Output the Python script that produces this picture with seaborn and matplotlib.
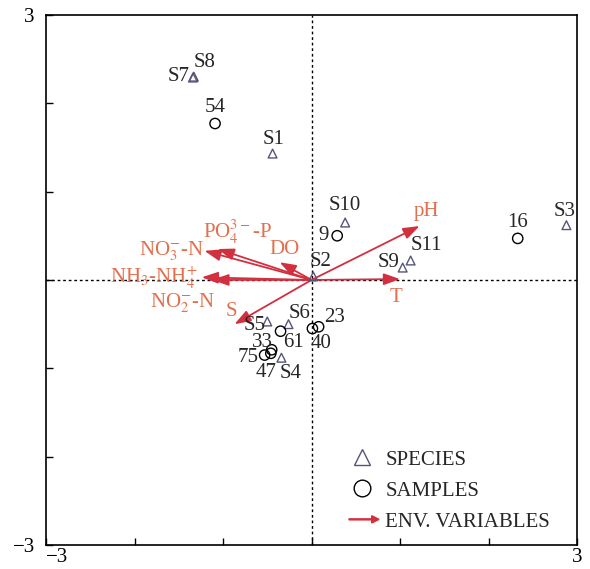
import matplotlib
matplotlib.use("Agg")
import matplotlib.pyplot as plt
import matplotlib.patches as mpatches
from matplotlib.lines import Line2D
from matplotlib.legend_handler import HandlerPatch
import seaborn as sns
import pandas as pd

# species scores
species_names = ["S1", "S2", "S3", "S4", "S5", "S6", "S7", "S8", "S9", "S10", "S11"]
species_x = [-0.44, 0.02, 2.88, -0.34, -0.50, -0.26, -1.34, -1.33, 1.03, 0.38, 1.12]
species_y = [1.43, 0.04, 0.62, -0.88, -0.47, -0.50, 2.29, 2.30, 0.14, 0.65, 0.22]

# sample scores
sample_names = ["54", "9", "16", "61", "33", "75", "47", "40", "23"]
sample_x = [-1.09, 0.29, 2.33, -0.35, -0.45, -0.53, -0.46, 0.01, 0.08]
sample_y = [1.77, 0.50, 0.47, -0.58, -0.79, -0.85, -0.83, -0.55, -0.53]

# environmental variables (arrow tips)
env_names = ["pH", "T", r"NO$_3^{-}$-N", r"PO$_4^{3-}$-P", "DO",
             r"NH$_3$-NH$_4^{+}$", r"NO$_2^{-}$-N", "S"]
env_x = [1.22, 1.00, -1.21, -1.06, -0.36, -1.24, -1.12, -0.87]
env_y = [0.61, 0.01, 0.33, 0.35, 0.20, 0.03, 0.00, -0.50]

species_df = pd.DataFrame({"name": species_names, "x": species_x, "y": species_y})
sample_df = pd.DataFrame({"name": sample_names, "x": sample_x, "y": sample_y})

sns.set_style("ticks")
plt.rcParams["font.family"] = ["Liberation Serif", "DejaVu Serif"]
plt.rcParams["mathtext.fontset"] = "stix"

tri_color = "#55557a"
env_color = "#d22f3f"
lab_color = "#e2704f"

fig = plt.figure(figsize=(5.9, 5.69), dpi=100)
ax = fig.add_axes([0.078, 0.042, 0.900, 0.932])

ax.axhline(0, color="black", ls=(0, (2, 2)), lw=1.0, zorder=1)
ax.axvline(0, color="black", ls=(0, (2, 2)), lw=1.0, zorder=1)

# env arrows
for ex, ey in zip(env_x, env_y):
    ax.annotate("", xy=(ex, ey), xytext=(0, 0),
                arrowprops=dict(arrowstyle="-|>,head_length=0.7,head_width=0.25",
                                color=env_color, lw=1.3, shrinkA=0, shrinkB=0,
                                mutation_scale=14), zorder=3)

sns.scatterplot(data=species_df, x="x", y="y", ax=ax, marker="^", s=40,
                facecolor="none", edgecolor=tri_color, linewidth=1.0, zorder=4)
sns.scatterplot(data=sample_df, x="x", y="y", ax=ax, marker="o", s=55,
                facecolor="none", edgecolor="black", linewidth=1.0, zorder=4)

fs = 15
# label offsets in points
sp_off = {"S1": (1, 10), "S2": (5, 11), "S3": (-1, 9.5), "S4": (6.5, -11),
          "S5": (-9, -3), "S6": (8, 8), "S7": (-10, 0.5), "S8": (8, 10),
          "S9": (-10, 4), "S10": (0, 12), "S11": (11.5, 10.5)}
for n, x, y in zip(species_names, species_x, species_y):
    dx, dy = sp_off[n]
    ax.annotate(n, (x, y), xytext=(dx, dy), textcoords="offset points",
                ha="center", va="center", fontsize=fs, zorder=5)

sa_off = {"54": (0, 11.5), "9": (-10, 0.5), "16": (0, 11.5), "61": (9.4, -8),
          "33": (-6.5, 5.5), "75": (-12, -2), "47": (-3.6, -13.5), "40": (6.5, -10.8),
          "23": (11.5, 7)}
for n, x, y in zip(sample_names, sample_x, sample_y):
    dx, dy = sa_off[n]
    ax.annotate(n, (x, y), xytext=(dx, dy), textcoords="offset points",
                ha="center", va="center", fontsize=fs, zorder=5)

env_lab = [(1.30, 0.78), (0.96, -0.20), (-1.58, 0.32), (-0.84, 0.54), (-0.31, 0.34),
           (-1.78, 0.02), (-1.46, -0.26), (-0.90, -0.36)]
for n, (lx, ly) in zip(env_names, env_lab):
    ax.text(lx, ly, n, color=lab_color, fontsize=fs, ha="center", va="center", zorder=5)

ax.set_xlim(-3, 3)
ax.set_ylim(-3, 3)
ax.set_xticks(range(-3, 4))
ax.set_yticks(range(-3, 4))
ax.set_xticklabels(["\u22123", "", "", "", "", "", "3"])
ax.set_yticklabels(["\u22123", "", "", "", "", "", "3"])
ax.get_xticklabels()[0].set_ha("left")
ax.tick_params(direction="in", length=5, width=1.0, labelsize=15, colors="black")
ax.tick_params(axis="x", pad=2)
ax.tick_params(axis="y", pad=8)
ax.set_xlabel("")
ax.set_ylabel("")
for sp in ax.spines.values():
    sp.set_visible(True)
    sp.set_linewidth(1.2)
    sp.set_color("black")


def make_arrow(legend, orig_handle, xdescent, ydescent, width, height, fontsize):
    x0 = 0.1 * width
    return mpatches.FancyArrow(x0, 0.5 * height, width - x0, 0, length_includes_head=True,
                               head_width=0.5 * height, head_length=0.5 * height,
                               color=env_color, width=0.07 * height)


handles = [
    Line2D([], [], marker="^", ls="none", markersize=12, markerfacecolor="none",
           markeredgecolor=tri_color, markeredgewidth=1.0),
    Line2D([], [], marker="o", ls="none", markersize=12, markerfacecolor="none",
           markeredgecolor="black", markeredgewidth=1.0),
    mpatches.FancyArrow(0, 0, 1, 0, color=env_color),
]
ax.legend(handles, ["SPECIES", "SAMPLES", "ENV. VARIABLES"], loc="lower left",
          bbox_to_anchor=(0.529, -0.01), frameon=False, fontsize=15,
          handlelength=1.6, handletextpad=0.3, labelspacing=0.55,
          handler_map={mpatches.FancyArrow: HandlerPatch(patch_func=make_arrow)})

fig.savefig("out.png", dpi=100)
